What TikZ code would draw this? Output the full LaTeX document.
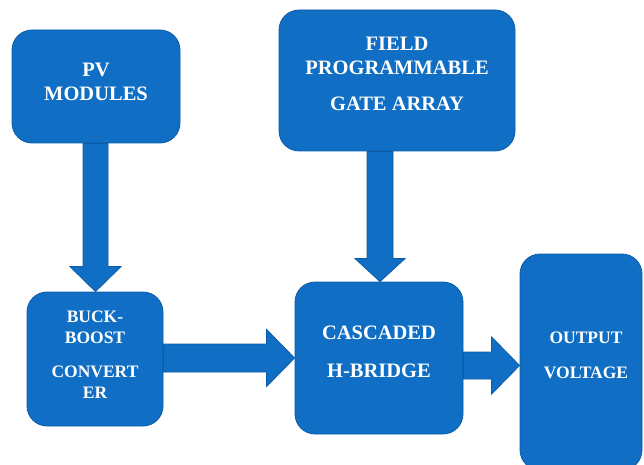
\documentclass[tikz,border=0pt]{standalone}
\usepackage{fontspec}
\setmainfont{Liberation Serif}
\usetikzlibrary{calc,backgrounds}
\definecolor{boxblue}{RGB}{16,111,196}
\definecolor{edgeblue}{RGB}{12,92,166}
\tikzset{
  blockbox/.style={draw=edgeblue, line width=0.8pt, fill=boxblue, rounded corners=20pt, inner sep=0pt},
  lbl/.style={text=white, align=center, inner sep=0pt},
  blk/.style={draw=edgeblue, line width=0.8pt, fill=boxblue, line join=miter},
}
\newcommand\bigtxt{\bfseries\fontsize{20.5}{24}\selectfont}
\newcommand\smtxt{\bfseries\fontsize{17.5}{21}\selectfont}
% block arrow down: from, to, shaft width, head width, head length, x offset
\newcommand\bdown[6]{%
  \draw[blk] let \p1=(#1.south), \p2=(#2.north), \n1={#3/2}, \n2={#4/2} in
   (\x2+#6pt-\n1*1pt,\y1) -- (\x2+#6pt-\n1*1pt,\y2+#5pt) -- (\x2+#6pt-\n2*1pt,\y2+#5pt)
   -- (\x2+#6pt,\y2) -- (\x2+#6pt+\n2*1pt,\y2+#5pt) -- (\x2+#6pt+\n1*1pt,\y2+#5pt)
   -- (\x2+#6pt+\n1*1pt,\y1) -- cycle;}
% block arrow right: from, to, shaft width, head width, head length, y offset
\newcommand\bright[6]{%
  \draw[blk] let \p1=(#1.east), \p2=(#2.west), \n1={#3/2}, \n2={#4/2} in
   (\x1,\y2+#6pt+\n1*1pt) -- (\x2-#5pt,\y2+#6pt+\n1*1pt) -- (\x2-#5pt,\y2+#6pt+\n2*1pt)
   -- (\x2,\y2+#6pt) -- (\x2-#5pt,\y2+#6pt-\n2*1pt) -- (\x2-#5pt,\y2+#6pt-\n1*1pt)
   -- (\x1,\y2+#6pt-\n1*1pt) -- cycle;}
\begin{document}
\begin{tikzpicture}[x=1pt,y=1pt]
\useasboundingbox (0,0) rectangle (644,464);
\clip (0,0) rectangle (644,464);
\node[blockbox, minimum width=168pt, minimum height=113pt,
  label={[lbl, font=\bigtxt, yshift=4.5pt]center:PV\\MODULES}] (pv) at (96,377.5) {};
\node[blockbox, minimum width=236pt, minimum height=141pt,
  label={[lbl, font=\bigtxt, yshift=6.5pt]center:FIELD\\PROGRAMMABLE\\[12pt]GATE ARRAY}] (fpga) at (397,383.5) {};
\node[blockbox, minimum width=136pt, minimum height=134pt,
  label={[lbl, font=\smtxt, yshift=4pt]center:BUCK-\\BOOST\\[13pt]CONVERT\\ER}] (bb) at (95,105) {};
\node[blockbox, minimum width=168pt, minimum height=152pt,
  label={[lbl, font=\bigtxt, yshift=6pt]center:CASCADED\\[14pt]H-BRIDGE}] (cas) at (379,106) {};
\node[blockbox, minimum width=122pt, minimum height=216pt,
  label={[lbl, font=\smtxt, yshift=6.5pt, xshift=5pt]center:OUTPUT\\[14pt]VOLTAGE}] (out) at (581,102) {};
\begin{scope}[on background layer]
\bdown{pv}{bb}{25}{51}{25}{0.5}
\bdown{fpga}{cas}{26}{50}{23}{1}
\bright{bb}{cas}{28}{57}{28}{0}
\bright{cas}{out}{27}{57}{28}{-3.5}
\end{scope}
\end{tikzpicture}
\end{document}
